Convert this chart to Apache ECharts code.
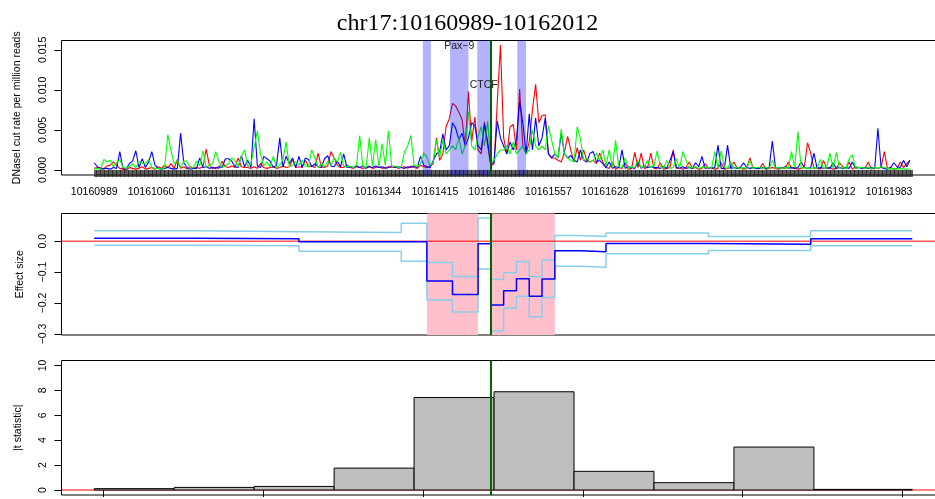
<!DOCTYPE html>
<html>
<head>
<meta charset="utf-8">
<title>chr17:10160989-10162012</title>
<script src="https://cdn.jsdelivr.net/npm/echarts@6.0.0/dist/echarts.min.js"></script>
<style>
html,body{margin:0;padding:0;background:#ffffff;}
#chart{width:935px;height:499px;}
</style>
</head>
<body>
<div id="chart"></div>
<script>
// ================= DATA =================
const chrom = 'chr17';
const regionStart = 10160989;
const regionEnd = 10162012;
const sampleStep = 4; // bp between cut-rate samples below

// DNaseI cut rate per million reads, in units of 1e-4, one sample every 4 bp (256 samples)
const redCuts = [
  2,3,3,1,5,6,10,6,2,1,0,3,2,1,2,4,
  1,2,3,1,4,2,6,3,8,2,13,2,4,1,4,2,
  3,2,4,26,6,2,3,2,11,4,3,5,3,15,4,3,
  3,2,4,2,8,3,2,3,4,2,3,5,3,4,13,3,
  4,3,12,4,5,3,21,4,3,5,23,15,6,3,3,6,
  3,2,4,3,2,3,5,2,3,4,2,3,4,3,4,2,
  3,4,2,5,3,2,6,4,3,5,8,40,12,20,54,64,
  83,80,72,63,30,98,35,66,25,20,60,30,5,8,84,156,
  40,20,54,57,25,101,30,20,35,75,107,59,68,69,20,15,
  15,12,10,22,42,25,10,28,12,25,12,10,12,8,21,10,
  3,2,10,1,3,2,9,1,2,22,3,21,2,3,21,2,
  2,9,1,2,3,25,2,3,1,3,10,2,3,1,2,8,
  2,3,1,2,9,1,2,3,10,2,3,1,2,15,2,3,
  2,8,1,2,3,2,1,3,2,10,2,3,1,2,3,34,
  21,2,3,1,12,2,3,1,2,9,4,2,10,1,4,3,
  3,2,10,1,3,2,3,23,2,3,1,2,10,3,8,12
];
const blueCuts = [
  9,4,1,2,2,1,3,2,23,2,1,8,11,24,3,14,
  3,10,23,6,2,1,2,3,2,1,2,46,9,3,1,2,
  2,15,3,4,2,3,2,4,3,14,14,11,4,3,18,4,
  12,3,64,5,3,17,14,11,3,6,40,4,17,8,15,3,
  17,3,15,13,4,8,4,3,14,18,5,4,11,4,20,3,
  4,3,5,3,5,2,4,3,5,3,4,2,3,5,3,4,
  3,2,4,3,5,3,17,6,4,3,12,20,23,45,25,30,
  59,52,38,46,30,40,59,55,30,25,57,35,6,10,61,40,
  30,20,35,25,38,85,59,20,70,25,65,30,40,65,20,15,
  20,15,46,20,15,18,12,10,25,12,10,21,23,10,12,8,
  3,10,2,4,3,25,2,4,3,2,10,2,5,3,4,3,
  3,2,4,2,12,23,3,2,4,2,3,2,9,4,17,2,
  3,2,3,31,2,2,31,2,3,2,3,9,3,2,3,2,
  2,3,2,3,36,2,3,2,4,2,3,2,3,10,3,2,
  3,21,2,3,2,3,2,9,2,3,2,3,2,10,2,3,
  2,3,2,3,2,52,3,2,1,3,9,4,3,12,4,12
];
const greenCuts = [
  1,2,1,13,10,12,4,9,13,3,2,4,8,3,10,8,
  8,13,3,2,2,1,3,44,24,8,12,3,11,11,2,3,
  11,5,24,3,6,8,23,10,3,5,8,15,12,4,17,25,
  4,8,28,49,20,5,10,4,17,3,6,13,35,4,6,10,
  6,12,5,4,25,15,3,8,4,11,6,15,10,22,5,4,
  5,3,6,43,4,3,40,5,38,4,33,6,49,4,5,3,
  4,23,30,43,6,4,8,21,16,5,10,38,15,38,20,25,
  30,25,40,20,30,73,30,25,42,54,30,61,10,12,20,25,
  25,30,20,35,20,25,30,20,25,50,30,25,30,25,55,37,
  20,15,51,20,15,12,10,54,39,12,15,10,12,21,12,25,
  5,25,3,37,4,3,15,2,4,3,12,3,4,12,3,5,
  24,4,2,12,2,3,14,2,23,12,2,3,4,2,3,4,
  3,2,23,2,24,3,2,10,2,3,2,3,2,12,2,3,
  3,2,3,2,12,2,3,2,3,2,23,3,48,2,3,2,
  2,3,2,13,2,3,21,2,22,2,3,2,14,19,2,3,
  3,2,3,2,3,2,4,3,2,1,2,1,2,1,1,1
];

// motif hits
const motifNames = ['', 'Pax\u22129', 'CTCF', ''];
const motifStarts = [10161400, 10161434, 10161468, 10161518];
const motifEnds = [10161410, 10161457, 10161484, 10161529];

const rateTicks = [0, 0.005, 0.01, 0.015];
const rateTickLabels = ['0.000', '0.005', '0.010', '0.015'];
const positionLabelEvery = 71;

// effect size step functions: segment breaks (17 segments)
const effectBreaks = [10160989, 10161117, 10161245, 10161373, 10161405, 10161437, 10161469, 10161485,
  10161501, 10161517, 10161533, 10161549, 10161565, 10161597, 10161629, 10161757, 10161885, 10162012];
const effectEstimate = [0.0098, 0.0076, -0.002, -0.002, -0.129, -0.172, -0.0086, -0.206,
  -0.160, -0.1215, -0.178, -0.1226, -0.031, -0.034, -0.0076, -0.0098, 0.0076];
const effectUpper = [0.0338, 0.0305, 0.028, 0.058, -0.069, -0.114, 0.075, -0.124,
  -0.102, -0.066, -0.115, -0.062, 0.0185, 0.015, 0.026, 0.015, 0.0338];
const effectLower = [-0.013, -0.015, -0.0327, -0.0645, -0.189, -0.229, -0.0903, -0.290,
  -0.217, -0.178, -0.244, -0.182, -0.081, -0.084, -0.041, -0.0305, -0.015];
const significantStarts = [10161405, 10161485];
const significantEnds = [10161469, 10161565];
const effectTicks = [0, -0.1, -0.2, -0.3];
const effectTickLabels = ['0.0', '\u22120.1', '\u22120.2', '\u22120.3'];

// |t statistic| per window
const windowStarts = [10160989, 10161089, 10161189, 10161289, 10161389, 10161489, 10161589, 10161689, 10161789, 10161889];
const windowEnds = [10161089, 10161189, 10161289, 10161389, 10161489, 10161589, 10161689, 10161789, 10161889, 10162012];
const tStatistics = [0.11, 0.21, 0.29, 1.76, 7.43, 7.89, 1.50, 0.59, 3.45, 0.05];
const tTicks = [0, 2, 4, 6, 8, 10];
const tTickLabels = ['0', '2', '4', '6', '8', '10'];
const positionTicks = [10161000, 10161200, 10161400, 10161600, 10161800, 10162000];

const focusPosition = 10161485;

// ================= BUILD =================
const positions = [];
for (let p = regionStart; p <= regionEnd; p++) positions.push(String(p));

const FONT = 'Liberation Sans';
const xPad = 0.04 * (regionEnd - regionStart);
const xMin = regionStart - xPad, xMax = regionEnd + xPad;
const L = 61.5, W = 883.5;
const dataLeft = L + (regionStart - xMin) / (xMax - xMin) * W;
const dataWidth = (regionEnd - regionStart) / (xMax - xMin) * W;

function pickLabel(ticks, labels) {
  return function (v) {
    let k = 0;
    ticks.forEach((t, i) => { if (Math.abs(t - v) < Math.abs(ticks[k] - v)) k = i; });
    return labels[k];
  };
}
function yAxisStyle(ticks, labels, name, gap) {
  return {
    axisLine: { show: false },
    axisTick: { show: true, length: 7, lineStyle: { color: '#000', width: 1 }, customValues: ticks },
    axisLabel: { customValues: ticks, formatter: pickLabel(ticks, labels), rotate: 90, margin: 13,
      fontSize: 10.5, color: '#000', fontFamily: FONT },
    splitLine: { show: false },
    name: name, nameLocation: 'middle', nameGap: gap,
    nameTextStyle: { fontSize: 10.5, color: '#000', fontFamily: FONT }
  };
}
const cutSeries = (vals) => vals.map((v, i) => [i * sampleStep, v * 1e-4]);
const stepData = (vals) => effectBreaks.map((b, i) => [b, vals[Math.min(i, vals.length - 1)]]);
const greenLine = (x) => ({
  z: 20, silent: true, symbol: ['none', 'none'], label: { show: false },
  lineStyle: { color: '#006400', width: 2, type: 'solid' }, emphasis: { disabled: true },
  data: [{ xAxis: x }]
});
const boxGrid = (top, height) => ({ left: L, top: top, width: W, height: height, show: true,
  borderColor: '#000', borderWidth: 1, backgroundColor: 'transparent', outerBoundsMode: 'none', containLabel: false });

const option = {
  animation: false,
  backgroundColor: '#ffffff',
  title: {
    text: chrom + ':' + regionStart + '-' + regionEnd,
    left: 'center', top: 7,
    textStyle: { fontFamily: 'Liberation Serif', fontSize: 24, fontWeight: 'normal', color: '#000' }
  },
  grid: [
    boxGrid(40.5, 134.5),
    { left: dataLeft, top: 40.5, width: dataWidth, height: 134.5, outerBoundsMode: 'none', containLabel: false },
    boxGrid(213.5, 121.5),
    boxGrid(360.5, 134.5)
  ],
  xAxis: [
    { gridIndex: 0, type: 'value', min: xMin, max: xMax, show: false },
    { gridIndex: 1, type: 'category', data: positions, boundaryGap: false,
      axisLine: { show: false },
      axisTick: { show: true, interval: 0, length: 7, lineStyle: { color: '#1a1a1a', width: 0.7 } },
      axisLabel: { interval: positionLabelEvery - 1, margin: 12, fontSize: 10.5, color: '#000', fontFamily: FONT },
      splitLine: { show: false } },
    { gridIndex: 2, type: 'value', min: xMin, max: xMax, show: false },
    { gridIndex: 3, type: 'value', min: xMin, max: xMax,
      axisLine: { show: false },
      axisTick: { show: true, length: 7, lineStyle: { color: '#000', width: 1 }, customValues: positionTicks },
      axisLabel: { show: false }, splitLine: { show: false } }
  ],
  yAxis: [
    Object.assign({ gridIndex: 0, type: 'value', min: -0.00063, max: 0.01617 },
      yAxisStyle(rateTicks, rateTickLabels, 'DNaseI cut rate per million reads', 39)),
    { gridIndex: 1, type: 'value', min: -0.00063, max: 0.01617, show: false },
    Object.assign({ gridIndex: 2, type: 'value', min: -0.3032, max: 0.0894 },
      yAxisStyle(effectTicks, effectTickLabels, 'Effect size', 36)),
    Object.assign({ gridIndex: 3, type: 'value', min: -0.4, max: 10.4 },
      yAxisStyle(tTicks, tTickLabels, '|t statistic|', 38))
  ],
  series: [
    { type: 'line', name: 'cuts red', xAxisIndex: 1, yAxisIndex: 1, data: cutSeries(redCuts),
      symbol: 'none', silent: true, z: 2, lineStyle: { color: '#ff0000', width: 1.1 }, itemStyle: { color: '#ff0000' },
      markArea: {
        z: 10, silent: true,
        itemStyle: { color: 'rgba(0,0,255,0.3)' },
        data: motifNames.map((n, i) => [
          { xAxis: motifStarts[i] - regionStart, name: n,
            label: { show: n !== '', position: 'insideTop', distance: n === 'CTCF' ? 39 : 0,
              color: '#222', fontSize: 10.5, fontFamily: FONT } },
          { xAxis: motifEnds[i] - regionStart }
        ])
      } },
    { type: 'line', name: 'cuts blue', xAxisIndex: 1, yAxisIndex: 1, data: cutSeries(blueCuts),
      symbol: 'none', silent: true, z: 2, lineStyle: { color: '#0000ff', width: 1.1 }, itemStyle: { color: '#0000ff' } },
    { type: 'line', name: 'cuts green', xAxisIndex: 1, yAxisIndex: 1, data: cutSeries(greenCuts),
      symbol: 'none', silent: true, z: 2, lineStyle: { color: '#00ff00', width: 1.1 }, itemStyle: { color: '#00ff00' },
      markLine: greenLine(focusPosition - regionStart) },

    { type: 'line', name: 'effect zero', xAxisIndex: 2, yAxisIndex: 2, data: [[xMin, 0], [xMax, 0]],
      symbol: 'none', silent: true, z: 3, lineStyle: { color: '#ff0000', width: 1 }, itemStyle: { color: '#ff0000' },
      markArea: {
        silent: true, itemStyle: { color: '#ffc0cb' },
        data: significantStarts.map((s, i) => [{ xAxis: s }, { xAxis: significantEnds[i] }])
      } },
    { type: 'line', name: 'upper', xAxisIndex: 2, yAxisIndex: 2, data: stepData(effectUpper), step: 'end',
      symbol: 'none', silent: true, z: 2, lineStyle: { color: '#87ceeb', width: 1.5 }, itemStyle: { color: '#87ceeb' } },
    { type: 'line', name: 'lower', xAxisIndex: 2, yAxisIndex: 2, data: stepData(effectLower), step: 'end',
      symbol: 'none', silent: true, z: 2, lineStyle: { color: '#87ceeb', width: 1.5 }, itemStyle: { color: '#87ceeb' } },
    { type: 'line', name: 'estimate', xAxisIndex: 2, yAxisIndex: 2, data: stepData(effectEstimate), step: 'end',
      symbol: 'none', silent: true, z: 4, lineStyle: { color: '#0000ff', width: 1.5 }, itemStyle: { color: '#0000ff' },
      markLine: greenLine(focusPosition) },

    { type: 'line', name: 'zero', xAxisIndex: 3, yAxisIndex: 3, data: [[xMin, 0], [xMax, 0]],
      symbol: 'none', silent: true, z: 1, lineStyle: { color: '#ff0000', width: 1 }, itemStyle: { color: '#ff0000' },
      markLine: greenLine(focusPosition) },
    { type: 'custom', name: 't', xAxisIndex: 3, yAxisIndex: 3, z: 2, silent: true,
      data: windowStarts.map((s, i) => [s, windowEnds[i], tStatistics[i]]),
      encode: { x: [0, 1], y: 2 },
      renderItem: function (params, api) {
        const p0 = api.coord([api.value(0), 0]);
        const p1 = api.coord([api.value(1), api.value(2)]);
        return { type: 'rect',
          shape: { x: p0[0], y: p1[1], width: p1[0] - p0[0], height: p0[1] - p1[1] },
          style: { fill: '#bebebe', stroke: '#000', lineWidth: 1 } };
      } }
  ]
};

const chart = echarts.init(document.getElementById('chart'), null, { renderer: 'canvas', width: 935, height: 499 });
chart.setOption(option);
</script>
</body>
</html>
